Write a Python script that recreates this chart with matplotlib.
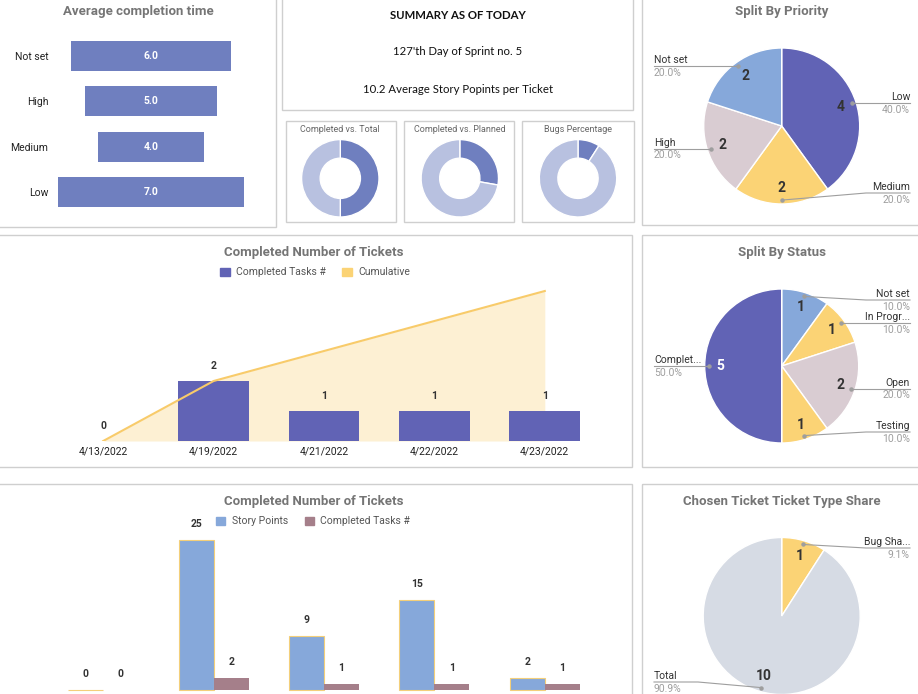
import numpy as np
import matplotlib
matplotlib.use("Agg")
import matplotlib.pyplot as plt
from matplotlib.patches import Rectangle, Patch

plt.rcParams['font.family'] = ['Roboto', 'DejaVu Sans']

W, H = 918, 694

# ---- data ----
prio_cats = ["Not set", "High", "Medium", "Low"]
prio_avg_time = [6.0, 5.0, 4.0, 7.0]

summary_lines = ["SUMMARY AS OF TODAY", "127'th Day of Sprint no. 5",
                 "10.2 Average Story Popints per Ticket"]

donut_titles = ["Completed vs. Total", "Completed vs. Planned", "Bugs Percentage"]
donut_values = [[5, 5], [5, 13], [1, 10]]

dates = ["4/13/2022", "4/19/2022", "4/21/2022", "4/22/2022", "4/23/2022"]
completed_tasks = [0, 2, 1, 1, 1]
cumulative = [0, 2, 3, 4, 5]
story_points = [0, 25, 9, 15, 2]

priority_labels = ["Low", "Medium", "High", "Not set"]
priority_counts = [4, 2, 2, 2]

status_labels = ["Not set", "In Progr...", "Open", "Testing", "Complet..."]
status_counts = [1, 1, 2, 1, 5]

share_labels = ["Bug Sha...", "Total"]
share_counts = [1, 10]

# ---- colours ----
PURPLE = "#6163b5"
SLATE = "#6f7fbf"
LIGHT = "#b8c1e0"
BLUE = "#86a8da"
YELLOW = "#fbd375"
ROSE = "#d9ccd2"
MAUVE = "#a57f8a"
PALE = "#d6dbe4"
TITLE_C = "#757575"
GREY = "#9e9e9e"
DARK = "#333333"


def box(x0, y0, x1, y1):
    return [x0 / W, 1 - y1 / H, (x1 - x0) / W, (y1 - y0) / H]


fig = plt.figure(figsize=(W / 100, H / 100), dpi=100)
fig.patch.set_facecolor("white")

bg = fig.add_axes([0, 0, 1, 1])
bg.set_xlim(0, W)
bg.set_ylim(H, 0)
bg.axis("off")

ov = fig.add_axes([0, 0, 1, 1], zorder=10)
ov.set_xlim(0, W)
ov.set_ylim(H, 0)
ov.axis("off")

panels = [(-2, -2, 276, 227), (282, -2, 633, 110),
          (286, 121, 396, 222), (404, 121, 514, 222), (522, 121, 634, 222),
          (642, -2, 925, 225), (-2, 235, 632, 467), (642, 235, 925, 467),
          (-2, 484, 632, 700), (642, 484, 925, 700)]
for x0, y0, x1, y1 in panels:
    bg.add_patch(Rectangle((x0, y0), x1 - x0, y1 - y0, fill=False,
                           ec="#cfcfcf", lw=1))


def title(x, y, s):
    bg.text(x, y, s, ha="center", va="center", fontsize=9.5,
            fontweight="bold", color=TITLE_C)


# ---- average completion time ----
title(138, 11, "Average completion time")
ax1 = fig.add_axes(box(58, 33.3, 244, 214.7))
w = np.array(prio_avg_time)
ax1.barh(np.arange(len(w)), w, left=-w / 2, height=0.66, color=SLATE)
ax1.set_xlim(-3.5, 3.5)
ax1.set_ylim(3.5, -0.5)
ax1.set_yticks(np.arange(len(w)))
ax1.set_yticklabels(prio_cats, fontsize=7.5, color="#222222")
ax1.set_xticks([])
ax1.tick_params(length=0, pad=7)
for s in ax1.spines.values():
    s.set_visible(False)
for i, v in enumerate(prio_avg_time):
    ax1.text(0, i, f"{v:.1f}", ha="center", va="center", color="white",
             fontsize=7.5, fontweight="bold")

# ---- summary ----
for y, s, wt in zip([15, 51.5, 89], summary_lines, ["bold", "normal", "normal"]):
    bg.text(458, y, s, ha="center", va="center", fontsize=8.2,
            fontweight=wt, family=["Lato", "DejaVu Sans"], color="#111111")

# ---- donuts ----
for cx, vals, t in zip([340.3, 459.8, 578], donut_values, donut_titles):
    bg.text(cx, 129.5, t, ha="center", va="center", fontsize=6.5, color="#666666")
    r = 38.7
    ax = fig.add_axes(box(cx - r, 178.3 - r, cx + r, 178.3 + r))
    ax.pie(vals, colors=[SLATE, LIGHT], startangle=90, counterclock=False,
           wedgeprops=dict(width=0.48, edgecolor="white", linewidth=1))
    ax.set_xlim(-1, 1)
    ax.set_ylim(-1, 1)


# ---- pies ----
def pie_panel(cx, cy, r, values, colors, labels, num_colors, ymin, ymax):
    ax = fig.add_axes(box(cx - r, cy - r, cx + r, cy + r))
    ax.pie(values, colors=colors, startangle=90, counterclock=False,
           wedgeprops=dict(edgecolor="white", linewidth=1))
    ax.set_xlim(-1, 1)
    ax.set_ylim(-1, 1)
    total = sum(values)
    start = 0
    for v, lab, nc in zip(values, labels, num_colors):
        mid = np.deg2rad((start + v / 2) / total * 360)
        start += v
        s, c = np.sin(mid), np.cos(mid)
        ax.text(0.8 * s, 0.8 * c, str(v), ha="center", va="center",
                fontsize=10, fontweight="bold", color=nc)
        dx, dy = cx + 0.95 * r * s, cy - 0.95 * r * c
        ly = min(max(dy, ymin), ymax)
        if s >= -1e-9:
            edge, bend, ha = 910, 866, "right"
        else:
            edge, bend, ha = 654, 698, "left"
        ov.plot([dx, bend, edge], [dy, ly, ly], color=GREY, lw=0.8)
        ov.plot(dx, dy, "o", ms=2.2, color=GREY)
        ov.text(edge, ly - 6, lab, ha=ha, va="center", fontsize=7.5, color=DARK)
        ov.text(edge, ly + 6.5, f"{v / total * 100:.1f}%", ha=ha, va="center",
                fontsize=7.5, color=GREY)


title(782, 11, "Split By Priority")
pie_panel(781.7, 126, 78, priority_counts, [PURPLE, YELLOW, ROSE, BLUE],
          priority_labels, [DARK] * 4, 60, 193)

title(782, 252.7, "Split By Status")
pie_panel(781.7, 366, 77, status_counts, [BLUE, YELLOW, ROSE, YELLOW, PURPLE],
          status_labels, [DARK] * 4 + ["white"], 300, 432)

title(782, 501.7, "Chosen Ticket Ticket Type Share")
pie_panel(781.7, 616, 78.5, share_counts, [YELLOW, PALE],
          share_labels, [DARK, DARK], 548, 682)

# ---- completed number of tickets (top) ----
title(314, 252.7, "Completed Number of Tickets")
x = np.arange(len(dates))
ax2 = fig.add_axes(box(48, 261, 600, 441))
ax2.fill_between(x, cumulative, color="#fdf0d3", lw=0, zorder=1)
ax2.bar(x, completed_tasks, width=0.64, color=PURPLE, zorder=2)
ax2.plot(x, cumulative, color="#f8cb6a", lw=1.5, zorder=3)
ax2.set_xlim(-0.5, 4.5)
ax2.set_ylim(0, 6)
ax2.set_xticks(x)
ax2.set_xticklabels(dates, fontsize=7.5, color="#222222")
ax2.set_yticks([])
ax2.tick_params(length=0, pad=4)
for s in ax2.spines.values():
    s.set_visible(False)
for i, v in enumerate(completed_tasks):
    ax2.annotate(str(v), (i, v), xytext=(0, 11), textcoords="offset points",
                 ha="center", va="center", fontsize=7.5, fontweight="bold",
                 color=DARK, annotation_clip=False)
ax2.legend([Patch(color=PURPLE), Patch(color=YELLOW)],
           ["Completed Tasks #", "Cumulative"], loc="center",
           bbox_to_anchor=(315 / W, 1 - 272.5 / H), bbox_transform=fig.transFigure,
           ncol=2, frameon=False, fontsize=7.5, handlelength=0.9,
           handleheight=0.9, handletextpad=0.6, columnspacing=1.6,
           labelcolor="#555555")

# ---- completed number of tickets (bottom) ----
title(314, 501.7, "Completed Number of Tickets")
ax3 = fig.add_axes(box(48, 528, 600, 690))
bw = 0.317
ax3.bar(x - bw / 2, story_points, width=bw, color=BLUE, edgecolor="#f3cf7a",
        lw=0.8, clip_on=False)
ax3.bar(x + bw / 2, completed_tasks, width=bw, color=MAUVE)
ax3.set_xlim(-0.5, 4.5)
ax3.set_ylim(0, 27)
ax3.set_xticks([])
ax3.set_yticks([])
for s in ax3.spines.values():
    s.set_visible(False)
for i in range(len(dates)):
    for off, v in [(-bw / 2, story_points[i]), (bw / 2, completed_tasks[i])]:
        ax3.annotate(str(v), (i + off, v), xytext=(0, 11.5), textcoords="offset points",
                     ha="center", va="center", fontsize=7.5, fontweight="bold",
                     color=DARK, annotation_clip=False)
ax3.legend([Patch(color=BLUE), Patch(color=MAUVE)],
           ["Story Points", "Completed Tasks #"], loc="center",
           bbox_to_anchor=(313 / W, 1 - 521.5 / H), bbox_transform=fig.transFigure,
           ncol=2, frameon=False, fontsize=7.5, handlelength=0.9,
           handleheight=0.9, handletextpad=0.6, columnspacing=1.6,
           labelcolor="#555555")

fig.savefig("out.png", dpi=100)
